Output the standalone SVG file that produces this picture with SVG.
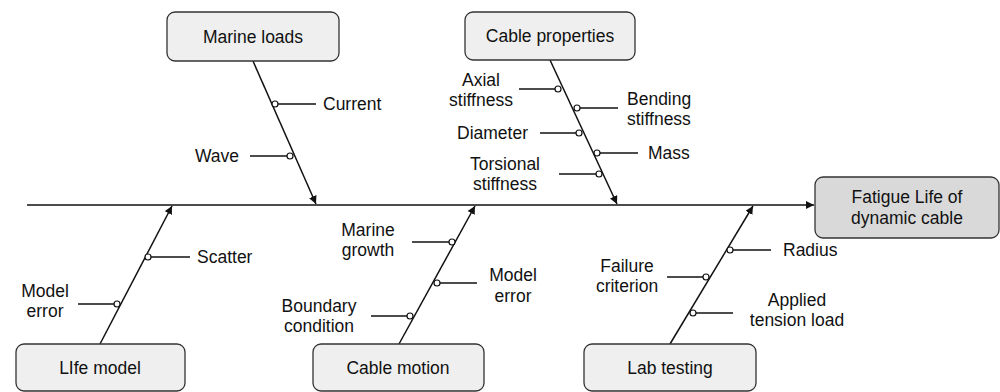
<svg xmlns="http://www.w3.org/2000/svg" width="1000" height="392" viewBox="0 0 1000 392">
<style>
.box{fill:#efefef;stroke:#333;stroke-width:1.3}
.main{fill:#d9d9d9;stroke:#333;stroke-width:1.3}
.ln{stroke:#111;stroke-width:1.5;fill:none}
.tk{stroke:#111;stroke-width:1.3;fill:none}
.dot{fill:#fff;stroke:#111;stroke-width:1.2}
text{font-family:"Liberation Sans",Arial,sans-serif;font-size:17.5px;fill:#111}
.c{text-anchor:middle}
.e{text-anchor:end}
</style>
<defs>
<marker id="ah" viewBox="0 0 10 10" refX="10" refY="5" markerWidth="8" markerHeight="8" markerUnits="userSpaceOnUse" orient="auto">
<path d="M0,0 L10,5 L0,10 z" fill="#111"/>
</marker>
</defs>
<g id="connectors">
<line class="ln" x1="27" y1="205" x2="814" y2="205" marker-end="url(#ah)"/>
<line class="ln" x1="253" y1="61" x2="316" y2="204" marker-end="url(#ah)"/>
<line class="ln" x1="550" y1="60" x2="617" y2="204" marker-end="url(#ah)"/>
<line class="ln" x1="100" y1="344" x2="172" y2="206" marker-end="url(#ah)"/>
<line class="ln" x1="399" y1="344" x2="475" y2="206" marker-end="url(#ah)"/>
<line class="ln" x1="670" y1="344" x2="753" y2="206" marker-end="url(#ah)"/>
<g id="ticks">
<line class="tk" x1="278" y1="104" x2="316" y2="104"/>
<line class="tk" x1="250" y1="156" x2="287" y2="156"/>
<line class="tk" x1="519" y1="89" x2="555" y2="89"/>
<line class="tk" x1="580" y1="108" x2="618" y2="108"/>
<line class="tk" x1="540" y1="133" x2="576" y2="133"/>
<line class="tk" x1="600" y1="153" x2="638" y2="153"/>
<line class="tk" x1="559" y1="174" x2="596" y2="174"/>
<line class="tk" x1="151" y1="257" x2="190" y2="257"/>
<line class="tk" x1="78" y1="304" x2="114" y2="304"/>
<line class="tk" x1="412" y1="242" x2="449" y2="242"/>
<line class="tk" x1="440" y1="283" x2="477" y2="283"/>
<line class="tk" x1="371" y1="316" x2="407" y2="316"/>
<line class="tk" x1="733" y1="250" x2="771" y2="250"/>
<line class="tk" x1="667" y1="277" x2="703" y2="277"/>
<line class="tk" x1="696" y1="313" x2="733" y2="313"/>
</g>
<g id="dots">
<circle class="dot" cx="275" cy="104" r="3"/>
<circle class="dot" cx="290" cy="156" r="3"/>
<circle class="dot" cx="558" cy="89" r="3"/>
<circle class="dot" cx="577" cy="108" r="3"/>
<circle class="dot" cx="579" cy="133" r="3"/>
<circle class="dot" cx="597" cy="153" r="3"/>
<circle class="dot" cx="599" cy="174" r="3"/>
<circle class="dot" cx="148" cy="257" r="3"/>
<circle class="dot" cx="117" cy="304" r="3"/>
<circle class="dot" cx="452" cy="242" r="3"/>
<circle class="dot" cx="437" cy="283" r="3"/>
<circle class="dot" cx="410" cy="316" r="3"/>
<circle class="dot" cx="730" cy="250" r="3"/>
<circle class="dot" cx="706" cy="277" r="3"/>
<circle class="dot" cx="693" cy="313" r="3"/>
</g>
</g>
<g id="marine-loads">
<rect class="box" x="167" y="12" width="172" height="49" rx="8"/>
<text class="c" x="253" y="43">Marine loads</text>
</g>
<g id="cable-properties">
<rect class="box" x="465" y="12" width="170" height="48" rx="8"/>
<text class="c" x="550" y="42">Cable properties</text>
</g>
<g id="life-model">
<rect class="box" x="16" y="344" width="169" height="47" rx="8"/>
<text class="c" x="100" y="374">LIfe model</text>
</g>
<g id="cable-motion">
<rect class="box" x="313" y="344" width="171" height="47" rx="8"/>
<text class="c" x="398" y="374">Cable motion</text>
</g>
<g id="lab-testing">
<rect class="box" x="584" y="344" width="172" height="47" rx="8"/>
<text class="c" x="670" y="374">Lab testing</text>
</g>
<g id="fatigue-life">
<rect class="main" x="815" y="177" width="184" height="61" rx="8"/>
<text class="c" x="907" y="203">Fatigue Life of</text>
<text class="c" x="907" y="223.5">dynamic cable</text>
</g>
<g id="labels">
<text x="323" y="110">Current</text>
<text class="e" x="239" y="162">Wave</text>
<text class="c" x="481" y="85.5">Axial</text>
<text class="c" x="481" y="106">stiffness</text>
<text x="627" y="104.5">Bending</text>
<text x="627" y="125">stiffness</text>
<text class="e" x="528" y="139">Diameter</text>
<text x="648" y="159">Mass</text>
<text class="c" x="505" y="169.5">Torsional</text>
<text class="c" x="505" y="190">stiffness</text>
<text x="197" y="263">Scatter</text>
<text class="c" x="45" y="296.5">Model</text>
<text class="c" x="45" y="317">error</text>
<text class="c" x="368" y="235.5">Marine</text>
<text class="c" x="368" y="256">growth</text>
<text class="c" x="513" y="281">Model</text>
<text class="c" x="513" y="301.5">error</text>
<text class="c" x="319" y="311.5">Boundary</text>
<text class="c" x="319" y="332">condition</text>
<text x="783" y="256">Radius</text>
<text class="c" x="627" y="271.5">Failure</text>
<text class="c" x="627" y="292">criterion</text>
<text class="c" x="797" y="305.5">Applied</text>
<text class="c" x="797" y="326">tension load</text>
</g>
</svg>
